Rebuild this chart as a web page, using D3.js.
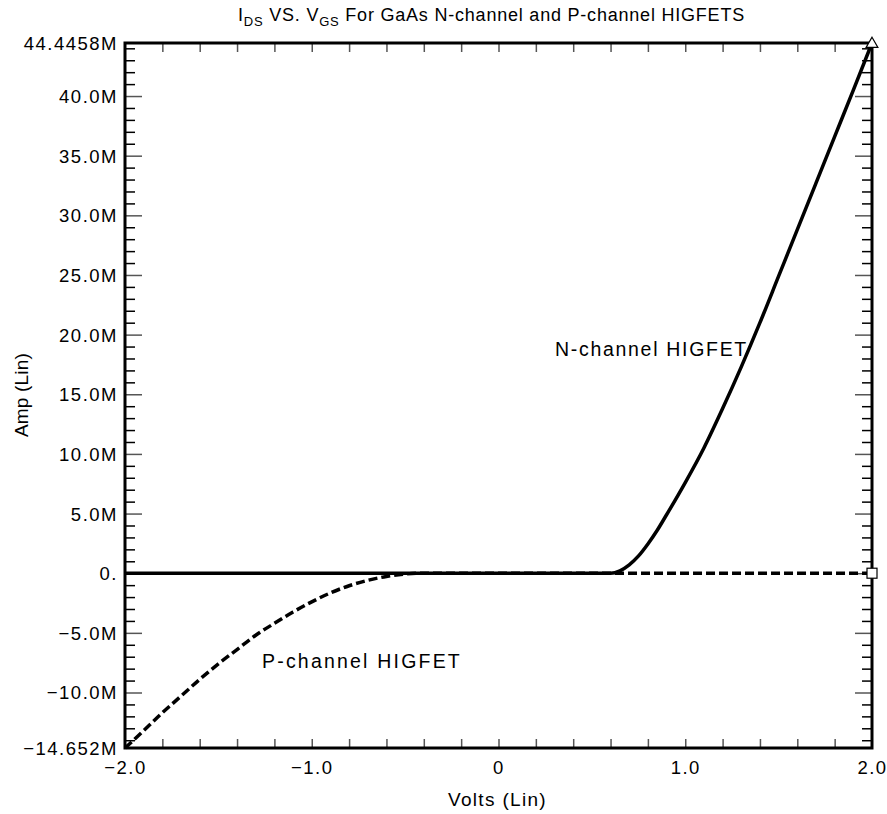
<!DOCTYPE html>
<html>
<head>
<meta charset="utf-8">
<script src="https://cdn.jsdelivr.net/npm/d3@7"></script>
<style>
  body { margin: 0; background: #fff; }
  text { font-family: "Liberation Sans", Arial, sans-serif; font-size: 18px; letter-spacing: 1.5px; fill: #000; }
</style>
</head>
<body>
<script>
// N-channel HIGFET (solid), volts vs mega-amps
var nVolts = [-2.0, 0.6, 0.65, 0.7, 0.75, 0.8, 0.85, 0.9, 1.0, 1.1, 1.2, 1.3, 1.4, 1.5, 1.6, 1.7, 1.8, 1.9, 2.0];
var nAmps  = [0, 0, 0.2, 0.7, 1.45, 2.45, 3.6, 4.9, 7.6, 10.5, 13.8, 17.3, 21.0, 24.9, 28.8, 32.7, 36.6, 40.5, 44.4458];

// P-channel HIGFET (dashed)
var pVolts = [-2.0, -1.9, -1.8, -1.7, -1.6, -1.5, -1.4, -1.3, -1.2, -1.1, -1.0, -0.9, -0.8, -0.7, -0.6, -0.5, -0.42, 2.0];
var pAmps  = [-14.652, -13.2, -11.7, -10.3, -8.9, -7.6, -6.4, -5.2, -4.2, -3.25, -2.4, -1.65, -1.05, -0.6, -0.27, -0.07, 0, 0];

var yMin = -14.652, yMax = 44.4458;
var yMajor = [-10, -5, 0, 5, 10, 15, 20, 25, 30, 35, 40];
var yLabels = { "-14.652": "\u221214.652M", "-10": "\u221210.0M", "-5": "\u22125.0M", "0": "0.",
  "5": "5.0M", "10": "10.0M", "15": "15.0M", "20": "20.0M", "25": "25.0M", "30": "30.0M",
  "35": "35.0M", "40": "40.0M", "44.4458": "44.4458M" };
var xLabelVals = [-2, -1, 0, 1, 2];
var xLabels = ["\u22122.0", "\u22121.0", "0", "1.0", "2.0"];

var width = 887, height = 814;
var mLeft = 125, mRight = 872, mTop = 43, mBottom = 748;

var svg = d3.select("body").append("svg")
  .attr("width", width)
  .attr("height", height);

var x = d3.scaleLinear().domain([-2, 2]).range([mLeft, mRight]);
var y = d3.scaleLinear().domain([yMin, yMax]).range([mBottom, mTop]);

// stretch a text's letter spacing so it spans the width seen in the reference
function fitWidth(t, target) {
  t.style("letter-spacing", "0px");
  var w = t.node().getComputedTextLength();
  var n = t.text().length;
  t.style("letter-spacing", ((target - w) / n) + "px");
}

// minor ticks, every 1M and every 0.2 V
var yMinor = d3.range(-14, 45, 1).filter(function(v) { return yMajor.indexOf(v) < 0; });
var xMinor = d3.range(-1.8, 2.0, 0.2).map(function(v) { return Math.round(v * 10) / 10; });

function tickAxis(axis, pos, size, color, sw, vals) {
  var g = svg.append("g").attr("transform", pos)
    .call(axis.tickValues(vals).tickSize(size).tickFormat(""));
  g.select(".domain").remove();
  g.selectAll("line").attr("stroke", color).attr("stroke-width", sw);
  return g;
}

tickAxis(d3.axisLeft(y), "translate(" + mLeft + ",0)", -10, "#000", 1.5, yMinor);
tickAxis(d3.axisRight(y), "translate(" + mRight + ",0)", -10, "#000", 1.5, yMinor);
tickAxis(d3.axisLeft(y), "translate(" + mLeft + ",0)", -17, "#555", 1.5, yMajor);
tickAxis(d3.axisRight(y), "translate(" + mRight + ",0)", -17, "#555", 1.5, yMajor);
tickAxis(d3.axisBottom(x), "translate(0," + mBottom + ")", -9, "#555", 1.5, xMinor);
tickAxis(d3.axisTop(x), "translate(0," + mTop + ")", -9, "#555", 1.5, xMinor);

// y tick labels
var yAx = d3.axisLeft(y)
  .tickValues([yMin].concat(yMajor).concat([yMax]))
  .tickSize(0).tickPadding(7)
  .tickFormat(function(d) { return yLabels[String(d)]; });
var gy = svg.append("g").attr("transform", "translate(" + mLeft + ",0)").call(yAx);
gy.select(".domain").remove();
gy.selectAll("text").attr("dy", "0.35em").style("font-size", "18.5px").style("font-family", null);

// x tick labels
var xAx = d3.axisBottom(x).tickValues(xLabelVals).tickSize(0).tickPadding(13)
  .tickFormat(function(d, i) { return xLabels[i]; });
var gx = svg.append("g").attr("transform", "translate(0," + mBottom + ")").call(xAx);
gx.select(".domain").remove();
gx.selectAll("text").style("font-size", "18.5px").style("font-family", null);

// frame
svg.append("rect")
  .attr("x", mLeft).attr("y", mTop)
  .attr("width", mRight - mLeft).attr("height", mBottom - mTop)
  .attr("fill", "none").attr("stroke", "#000").attr("stroke-width", 3);

var line = d3.line()
  .x(function(d) { return x(d[0]); })
  .y(function(d) { return y(d[1]); })
  .curve(d3.curveMonotoneX);

var nData = d3.zip(nVolts, nAmps);
var pData = d3.zip(pVolts, pAmps);

svg.append("path").datum(pData)
  .attr("d", line).attr("fill", "none")
  .attr("stroke", "#000").attr("stroke-width", 3.5)
  .attr("stroke-dasharray", "9,4");

svg.append("path").datum(nData)
  .attr("d", line).attr("fill", "none")
  .attr("stroke", "#000").attr("stroke-width", 3.5);

// end markers
var tri = d3.symbol().type(d3.symbolTriangle).size(60);
svg.append("path")
  .attr("d", tri())
  .attr("transform", "translate(" + x(2) + "," + (y(yMax) + 1) + ")")
  .attr("fill", "#fff").attr("stroke", "#000").attr("stroke-width", 1.2);

svg.append("rect")
  .attr("x", x(2) - 5).attr("y", y(0) - 5)
  .attr("width", 10).attr("height", 10)
  .attr("fill", "#fff").attr("stroke", "#000").attr("stroke-width", 1.2);

// title
var title = svg.append("text")
  .attr("x", 238).attr("y", 21);
title.append("tspan").text("I");
title.append("tspan").attr("dy", 5).style("font-size", "13px").text("DS");
title.append("tspan").attr("dy", -5).text(" VS. V");
title.append("tspan").attr("dy", 5).style("font-size", "13px").text("GS");
title.append("tspan").attr("dy", -5).text(" For GaAs N-channel and P-channel HIGFETS");
fitWidth(title, 507);

// axis titles
fitWidth(svg.append("text")
  .attr("x", 448).attr("y", 806).style("font-size", "19px")
  .text("Volts (Lin)"), 99);

fitWidth(svg.append("text")
  .attr("transform", "translate(28,437) rotate(-90)").style("font-size", "19px")
  .text("Amp (Lin)"), 84);

// curve annotations
fitWidth(svg.append("text").attr("x", 555).attr("y", 356).style("font-size", "19.5px")
  .text("N-channel HIGFET"), 193);
fitWidth(svg.append("text").attr("x", 262).attr("y", 668).style("font-size", "19.5px")
  .text("P-channel HIGFET"), 200);
</script>
</body>
</html>
